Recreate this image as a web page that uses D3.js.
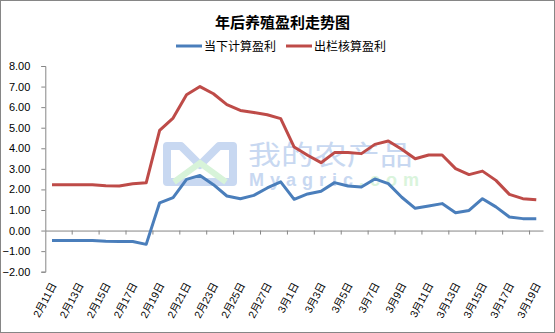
<!DOCTYPE html>
<html>
<head>
<meta charset="utf-8">
<script src="https://cdn.jsdelivr.net/npm/d3@7"></script>
<style>
body { margin: 0; background: #fff; }
text { font-family: "Liberation Sans", "Noto Sans CJK SC", sans-serif; }
</style>
</head>
<body>
<svg id="chart" width="555" height="333"></svg>
<script>
// dates shown on the category axis (one per day)
var dates = [
	"2月11日","2月12日","2月13日","2月14日","2月15日","2月16日","2月17日","2月18日","2月19日","2月20日",
	"2月21日","2月22日","2月23日","2月24日","2月25日","2月26日","2月27日","2月28日","3月1日","3月2日",
	"3月3日","3月4日","3月5日","3月6日","3月7日","3月8日","3月9日","3月10日","3月11日","3月12日",
	"3月13日","3月14日","3月15日","3月16日","3月17日","3月18日","3月19日"
];

// 当下计算盈利
var currentProfit = [
	-0.48, -0.48, -0.48, -0.48, -0.52, -0.53, -0.53, -0.67, 1.35, 1.60,
	2.49, 2.68, 2.23, 1.68, 1.55, 1.71, 2.07, 2.37, 1.52, 1.78,
	1.91, 2.33, 2.17, 2.12, 2.51, 2.28, 1.62, 1.08, 1.19, 1.31,
	0.87, 0.98, 1.55, 1.15, 0.66, 0.58, 0.58
];

// 出栏核算盈利
var saleProfit = [
	2.23, 2.23, 2.23, 2.23, 2.18, 2.17, 2.28, 2.32, 4.87, 5.47,
	6.60, 7.00, 6.65, 6.12, 5.84, 5.74, 5.63, 5.44, 4.06, 3.66,
	3.30, 3.79, 3.79, 3.74, 4.19, 4.35, 3.95, 3.49, 3.67, 3.67,
	3.01, 2.72, 2.89, 2.44, 1.76, 1.55, 1.50
];

var yTicks = [-2, -1, 0, 1, 2, 3, 4, 5, 6, 7, 8];

var seriesNames = ["当下计算盈利", "出栏核算盈利"];
var seriesColors = ["#4a7ebb", "#be4b48"];

var svg = d3.select("#chart");
var axisColor = "#868686";

// outer frame
svg.append("rect")
	.attr("x", 0.5).attr("y", 0.5)
	.attr("width", 554).attr("height", 332)
	.attr("fill", "#fff")
	.attr("stroke", axisColor);

// plot area
var plotLeft = 45.3, plotRight = 543, plotTop = 66, plotBottom = 271.7;

var x = d3.scaleBand().domain(dates).range([plotLeft, plotRight]);
var y = d3.scaleLinear().domain([-2, 8]).range([plotBottom, plotTop]);

// watermark
var wm = svg.append("g");
wm.append("path")
	.attr("d", "M167,182 V146 H181 L200,165 L219,146 H233 V182 Z")
	.attr("fill", "none").attr("stroke", "#c8d8f1").attr("stroke-width", 8)
	.attr("stroke-linejoin", "round");
wm.append("path")
	.attr("d", "M174,182 L200,163 L226,182")
	.attr("fill", "none").attr("stroke", "#d7f3d9").attr("stroke-width", 6);
wm.append("text")
	.attr("transform", "translate(248,165) scale(1.22,1)")
	.attr("font-size", 27).attr("fill", "#c8d8f1")
	.style("font-family", "Noto Sans CJK SC")
	.text("我的农产品");
wm.append("text").attr("x", 249).attr("y", 186)
	.attr("font-size", 18).attr("font-weight", "bold").attr("fill", "#c8d8f1")
	.attr("letter-spacing", 6)
	.text("Myagric")
	.append("tspan").attr("fill", "#daf4dc").text(".com");

// y axis
var yAxis = svg.append("g")
	.attr("transform", "translate(" + plotLeft + ",0)")
	.call(d3.axisLeft(y).tickValues(yTicks).tickSize(4).tickPadding(11).tickFormat(d3.format(".2f")));
yAxis.select(".domain").attr("stroke", axisColor);
yAxis.selectAll(".tick line").attr("stroke", axisColor);
yAxis.selectAll(".tick text").attr("font-size", 11).attr("fill", "#000")
	.style("font-family", "Liberation Sans");

// category axis on the zero line, tick marks every two days
var xAxis = svg.append("g")
	.attr("transform", "translate(0," + y(0) + ")")
	.call(d3.axisBottom(x).tickValues([]).tickSizeOuter(0));
xAxis.select(".domain").attr("stroke", axisColor);
xAxis.selectAll(".boundary")
	.data(dates.filter(function (d, i) { return i > 0 && i % 2 === 0; }))
	.enter().append("line")
	.attr("x1", function (d) { return x(d); })
	.attr("x2", function (d) { return x(d); })
	.attr("y1", 0).attr("y2", 4)
	.attr("stroke", axisColor);

// rotated date labels, every other day
svg.selectAll(".xlabel")
	.data(dates.filter(function (d, i) { return i % 2 === 0; }))
	.enter().append("text")
	.attr("class", "xlabel")
	.attr("text-anchor", "end")
	.attr("font-size", 10.5)
	.attr("transform", function (d) {
		return "translate(" + (x(d) + x.bandwidth() / 2 + 5) + "," + 285 + ") rotate(-62)";
	})
	.text(function (d) { return d; });

// lines
var line = d3.line()
	.x(function (d, i) { return x(dates[i]) + x.bandwidth() / 2; })
	.y(function (d) { return y(d); });

[currentProfit, saleProfit].forEach(function (s, k) {
	svg.append("path")
		.datum(s)
		.attr("fill", "none")
		.attr("stroke", seriesColors[k])
		.attr("stroke-width", 3)
		.attr("stroke-linejoin", "round")
		.attr("d", line);
});

// title
svg.append("text")
	.attr("x", 282.5).attr("y", 28)
	.attr("text-anchor", "middle")
	.attr("font-size", 15)
	.attr("font-weight", "bold")
	.style("font-family", "Noto Sans CJK SC")
	.text("年后养殖盈利走势图");

// legend
var legendX = [176, 286];
seriesNames.forEach(function (name, k) {
	var g = svg.append("g").attr("transform", "translate(" + legendX[k] + ",46)");
	g.append("line").attr("x1", 0).attr("x2", 26).attr("y1", 0).attr("y2", 0)
		.attr("stroke", seriesColors[k]).attr("stroke-width", 3);
	g.append("text").attr("x", 28).attr("y", 4.5)
		.attr("font-size", 12)
		.style("font-family", "Noto Sans CJK SC")
		.text(name);
});
</script>
</body>
</html>
